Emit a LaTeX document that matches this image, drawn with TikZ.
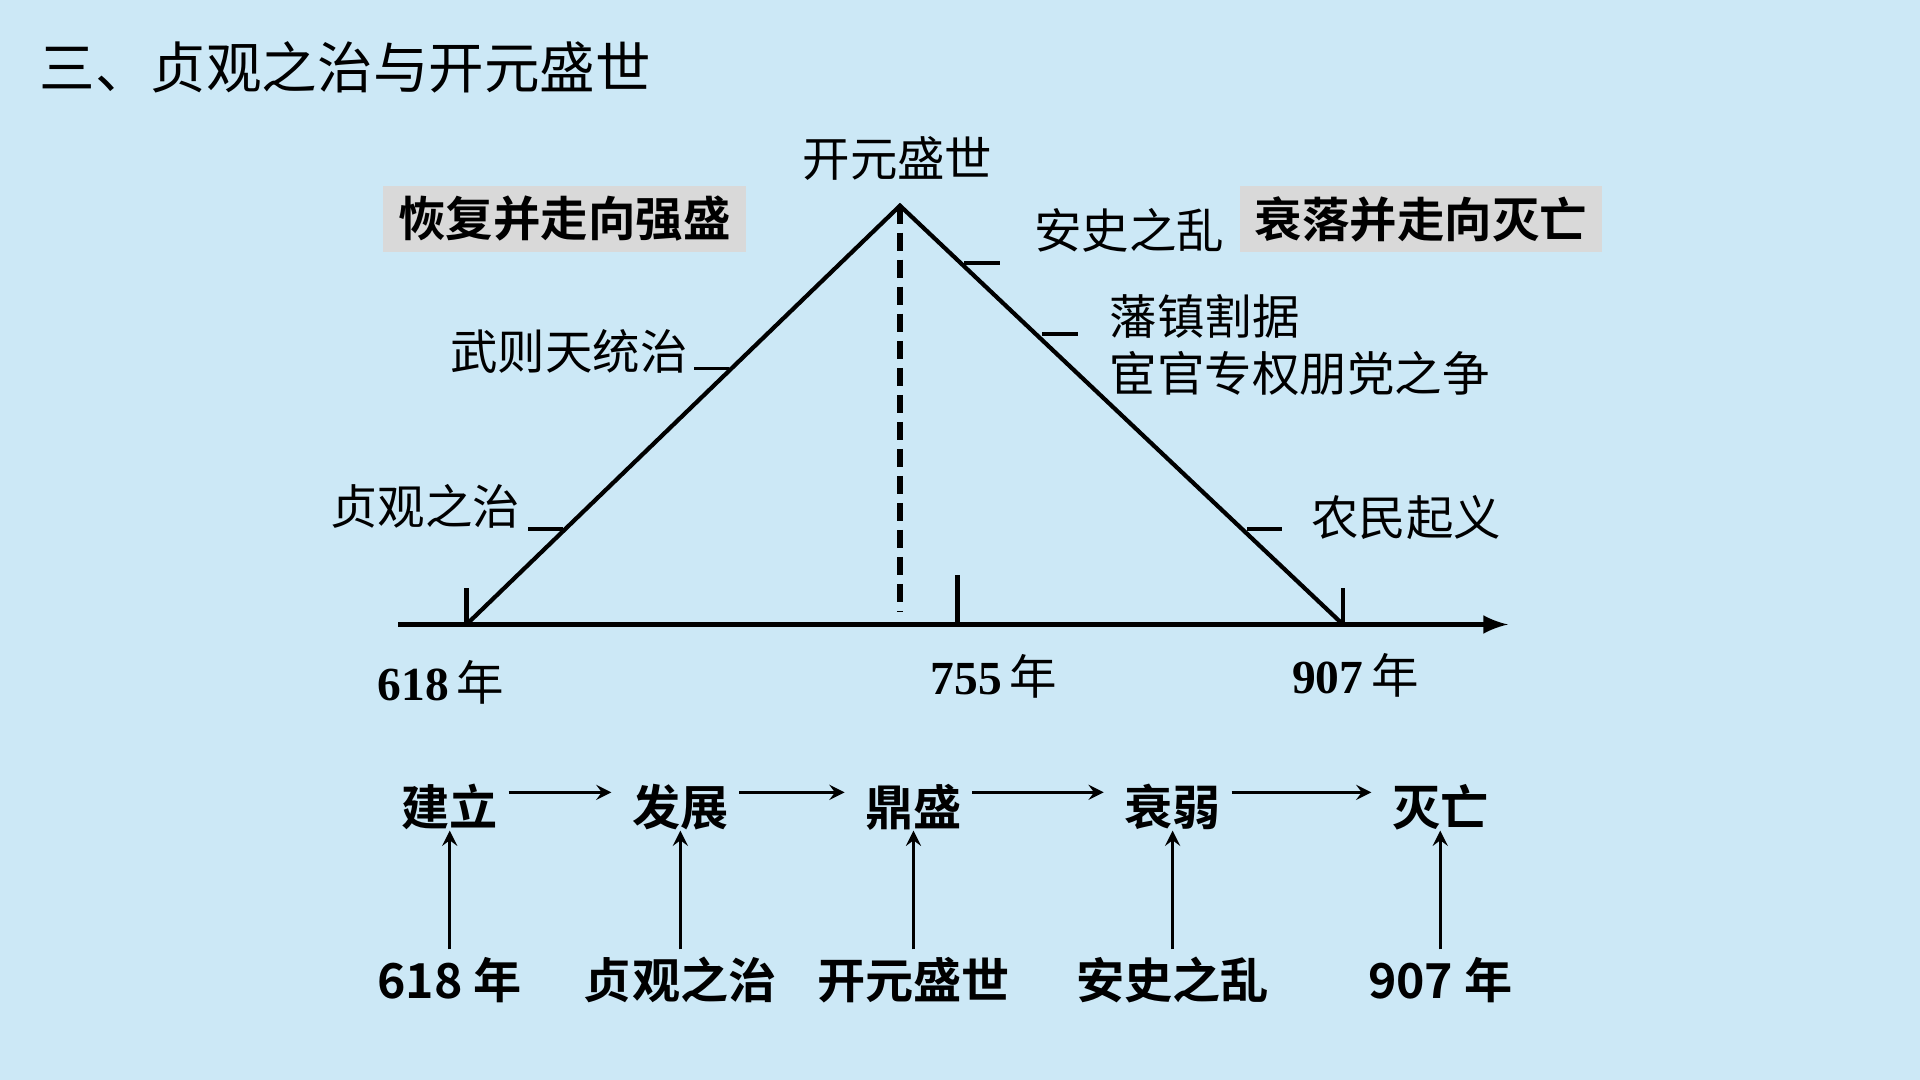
\documentclass[tikz,border=0pt]{standalone}
\usepackage{fontspec}
\setmainfont{Noto Sans CJK SC}[BoldFont={Noto Sans CJK SC Bold}]
\newfontfamily\numfont{Liberation Serif}
\usetikzlibrary{matrix,positioning}
\definecolor{bgblue}{RGB}{204,232,246}
\definecolor{boxgray}{RGB}{217,217,217}
\newcommand{\yr}[1]{{\numfont\bfseries #1}\,年}

\begin{document}
\begin{tikzpicture}[x=0.01cm,y=-0.01cm,
	lbl/.style={inner sep=0pt,font=\fontsize{13.5}{16}\selectfont},
	stagebox/.style={fill=boxgray,inner xsep=0.15cm,inner ysep=0pt,minimum height=0.66cm,font=\fontsize{13.5}{16}\selectfont\bfseries},
	leader/.style={line width=1pt}]
	\fill[bgblue] (0,0) rectangle (1920,1080);
	\node[anchor=west,inner sep=0pt,font=\fontsize{15.8}{18}\selectfont] (title) at (39,67) {三、贞观之治与开元盛世};
	
	% time line
	\coordinate (t0) at (398,624.5);
	\coordinate (t1) at (1508,624.5);
	\coordinate (a) at (466.5,624.5);
	\coordinate (b) at (957.6,624.5);
	\coordinate (c) at (1343,624.5);
	\coordinate (top) at (900,205.7);
	\coordinate (dashend) at (900,612);
	\draw[line width=1.4pt,-latex] (t0) -- (t1);
	\draw[line width=1.2pt] (a) -- (top) -- (c);
	\draw[line width=1.6pt,dash pattern=on 0.18cm off 0.09cm] (top) -- (dashend);
	\draw[line width=1.2pt] (a) -- ++(0,-36.5) (b) -- ++(0,-49) (c) -- ++(0,-36.5);
	\node[lbl] (y618) at (441,682) {\yr{618}};
	\node[lbl] (y755) at (994,676) {\yr{755}};
	\node[lbl] (y907) at (1355.5,675) {\yr{907}};
	
	\node[lbl] (kaiyuan) at (897.5,159) {开元盛世};
	\node[stagebox] (rise) at (564.5,219) {恢复并走向强盛};
	\node[stagebox] (fall) at (1421,219) {衰落并走向灭亡};
	
	\node[lbl] (zhenguan) at (425,506) {贞观之治};
	\node[lbl] (wuzetian) at (569,351.5) {武则天统治};
	\node[lbl] (anshi) at (1129,230) {安史之乱};
	\node[lbl,anchor=west] (fanzhen) at (1109,316) {藩镇割据};
	\node[lbl,anchor=west] (huanguan) at (1109,373.5) {宦官专权朋党之争};
	\node[lbl] (nongmin) at (1406,518) {农民起义};
	\draw[leader] (528,529) -- ++(35,0);
	\draw[leader] (694,368.5) -- ++(35,0);
	\draw[leader] (964,263) -- ++(36,0);
	\draw[leader] (1042,334) -- ++(36,0);
	\draw[leader] (1247,529) -- ++(35,0);
	
	% stages
	\matrix (m) [matrix of nodes,inner sep=0pt,column sep=0.375cm,row sep=1.38cm,
		nodes={inner sep=0pt,text height=0.88em,text depth=0.12em,font=\fontsize{13.7}{16}\selectfont\bfseries},
		row 2/.style={nodes={minimum width=1.93cm}}] at (945,899)
	{
		建立 & 发展 &[0.025cm] 鼎盛 &[0.285cm] 衰弱 &[0.37cm] 灭亡 \\
		618 年 & 贞观之治 & 开元盛世 & 安史之乱 & 907 年 \\};
	\path[-stealth,line width=0.9pt,shorten <=0.1cm,shorten >=0.2cm]
	([yshift=0.2cm]m-1-1.east) edge ([yshift=0.2cm]m-1-2.west)
	([yshift=0.2cm]m-1-2.east) edge ([yshift=0.2cm]m-1-3.west)
	([yshift=0.2cm]m-1-3.east) edge ([yshift=0.2cm]m-1-4.west)
	([yshift=0.2cm]m-1-4.east) edge ([yshift=0.2cm]m-1-5.west);
	\path[-stealth,line width=0.9pt,shorten <=0.18cm]
	(m-2-1) edge (m-1-1)
	(m-2-2) edge (m-1-2)
	(m-2-3) edge (m-1-3)
	(m-2-4) edge (m-1-4)
	(m-2-5) edge (m-1-5);
\end{tikzpicture}
\end{document}
